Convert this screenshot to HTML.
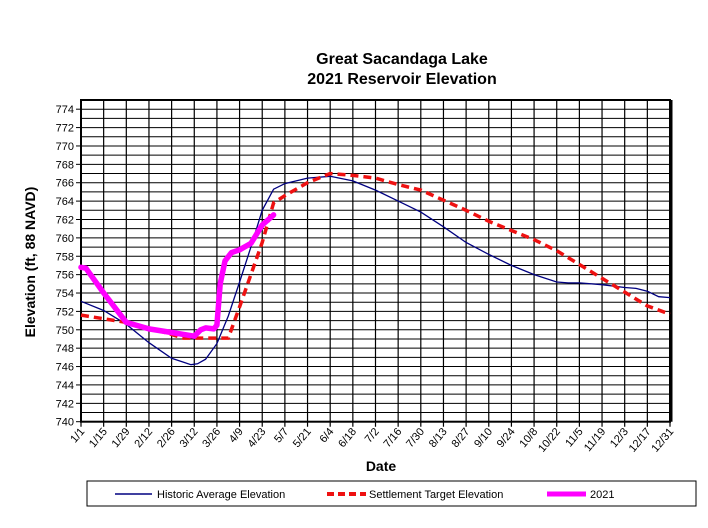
<!DOCTYPE html>
<html><head><meta charset="utf-8">
<style>
body{margin:0;background:#fff;}
svg{display:block;font-family:"Liberation Sans",Arial,sans-serif;}
</style></head>
<body>
<svg id="chart" width="708" height="528" viewBox="0 0 708 528">
<text x="402" y="64" text-anchor="middle" font-size="16" font-weight="bold">Great Sacandaga Lake</text>
<text x="402" y="84" text-anchor="middle" font-size="16" font-weight="bold">2021 Reservoir Elevation</text>
<g id="grid"></g>
<g id="yticks"></g>
<g id="xticks"></g>
<g id="series"></g>
<text transform="translate(35,262) rotate(-90)" text-anchor="middle" font-size="14" font-weight="bold">Elevation (ft, 88 NAVD)</text>
<text x="381" y="471" text-anchor="middle" font-size="14" font-weight="bold">Date</text>
<g>
<rect x="87" y="481" width="609" height="25" fill="#fff" stroke="#000" stroke-width="1"/>
<g>
<line x1="115" y1="494" x2="152" y2="494" stroke="#000080" stroke-width="1.5"/>
<text x="157" y="498" font-size="11">Historic Average Elevation</text></g>
<g>
<line x1="327" y1="494" x2="366" y2="494" stroke="#ee1111" stroke-width="4" stroke-dasharray="7,4"/>
<text x="369" y="498" font-size="11">Settlement Target Elevation</text></g>
<g>
<line x1="547" y1="494" x2="586" y2="494" stroke="#ff00ff" stroke-width="5"/>
<text x="590" y="498" font-size="11">2021</text></g>
</g>
</svg>
<script>
const xTickLabels=["1/1","1/15","1/29","2/12","2/26","3/12","3/26","4/9","4/23","5/7","5/21","6/4","6/18","7/2","7/16","7/30","8/13","8/27","9/10","9/24","10/8","10/22","11/5","11/19","12/3","12/17","12/31"];
const yTicks=[740,742,744,746,748,750,752,754,756,758,760,762,764,766,768,770,772,774];
const histDays=[0,14,28,42,56,63,68,72,77,84,91,98,105,112,119,126,140,154,168,182,196,210,224,238,252,266,280,294,301,308,322,336,343,350,357,364];
const histVals=[753.1,752.1,750.6,748.6,746.9,746.5,746.2,746.3,746.8,748.5,751.5,755.2,759,763,765.3,765.9,766.5,766.7,766.2,765.2,764,762.8,761.2,759.5,758.2,757,756,755.2,755.1,755.1,754.9,754.6,754.5,754.2,753.6,753.5];
const targetDays=[0,28,42,56,63,91,98,105,112,119,126,140,154,168,182,196,210,224,238,252,266,280,294,308,322,336,350,364];
const targetVals=[751.6,750.8,750.2,749.5,749.1,749.1,752.5,756,759.5,763.8,764.6,766,767,766.8,766.5,765.8,765.2,764.1,763,761.8,760.8,759.8,758.6,757.1,755.6,754.1,752.6,751.7];
const y2021Days=[0,3,14,28,42,56,70,74,77,82,84,86,89,93,98,105,112,119];
const y2021Vals=[756.8,756.7,754,750.8,750.1,749.7,749.3,750,750.2,750.1,750.5,755,757.5,758.4,758.7,759.4,761.4,762.5];

const NS="http://www.w3.org/2000/svg";
const L=81,R=670,T=100,B=421.7,yMin=740,yMax=775,dMax=364;
const xs=d=>L+(R-L)*d/dMax;
const ys=v=>B-(B-T)*(v-yMin)/(yMax-yMin);
function mk(tag,attrs,parent){const e=document.createElementNS(NS,tag);for(const k in attrs)e.setAttribute(k,attrs[k]);parent.appendChild(e);return e;}
const grid=document.getElementById('grid');
for(let v=yMin;v<=yMax;v++){
  const l=mk('line',{x1:L,x2:R,y1:ys(v),y2:ys(v),stroke:'#000','stroke-width':1},grid);
  
  
}
const yt=document.getElementById('yticks');
yTicks.forEach(v=>{
  mk('line',{x1:L-5,x2:L,y1:ys(v),y2:ys(v),stroke:'#000'},yt);
  const t=mk('text',{x:L-7,y:ys(v)+4,'text-anchor':'end','font-size':11},yt);
  t.textContent=v;
  
  
});
const xt=document.getElementById('xticks');
xTickLabels.forEach((lab,i)=>{
  const x=xs(i*14);
  const l=mk('line',{x1:x,x2:x,y1:T,y2:B+5,stroke:'#000','stroke-width':1.2},grid);
  
  
  const t=mk('text',{transform:`translate(${x+4},${B+10}) rotate(-50)`,'text-anchor':'end','font-size':11},xt);
  t.textContent=lab;
  
  
});
const fr=mk('rect',{x:L,y:T,width:R-L,height:B-T,fill:'none',stroke:'#000','stroke-width':2},grid);


mk('line',{x1:R+1,x2:R+1,y1:T,y2:B,stroke:'#000','stroke-width':3},grid);
const ser=document.getElementById('series');
function path(days,vals){return days.map((d,i)=>(i?'L':'M')+xs(d).toFixed(1)+','+ys(vals[i]).toFixed(1)).join(' ');}
const p1=mk('path',{d:path(histDays,histVals),fill:'none',stroke:'#000080','stroke-width':1.3},ser);


const p2=mk('path',{d:path(targetDays,targetVals),fill:'none',stroke:'#ee1111','stroke-width':3.5,'stroke-dasharray':'8,5'},ser);


const p3=mk('path',{d:path(y2021Days,y2021Vals),fill:'none',stroke:'#ff00ff','stroke-width':5.5,'stroke-linejoin':'round','stroke-linecap':'round'},ser);


</script>
</body></html>
